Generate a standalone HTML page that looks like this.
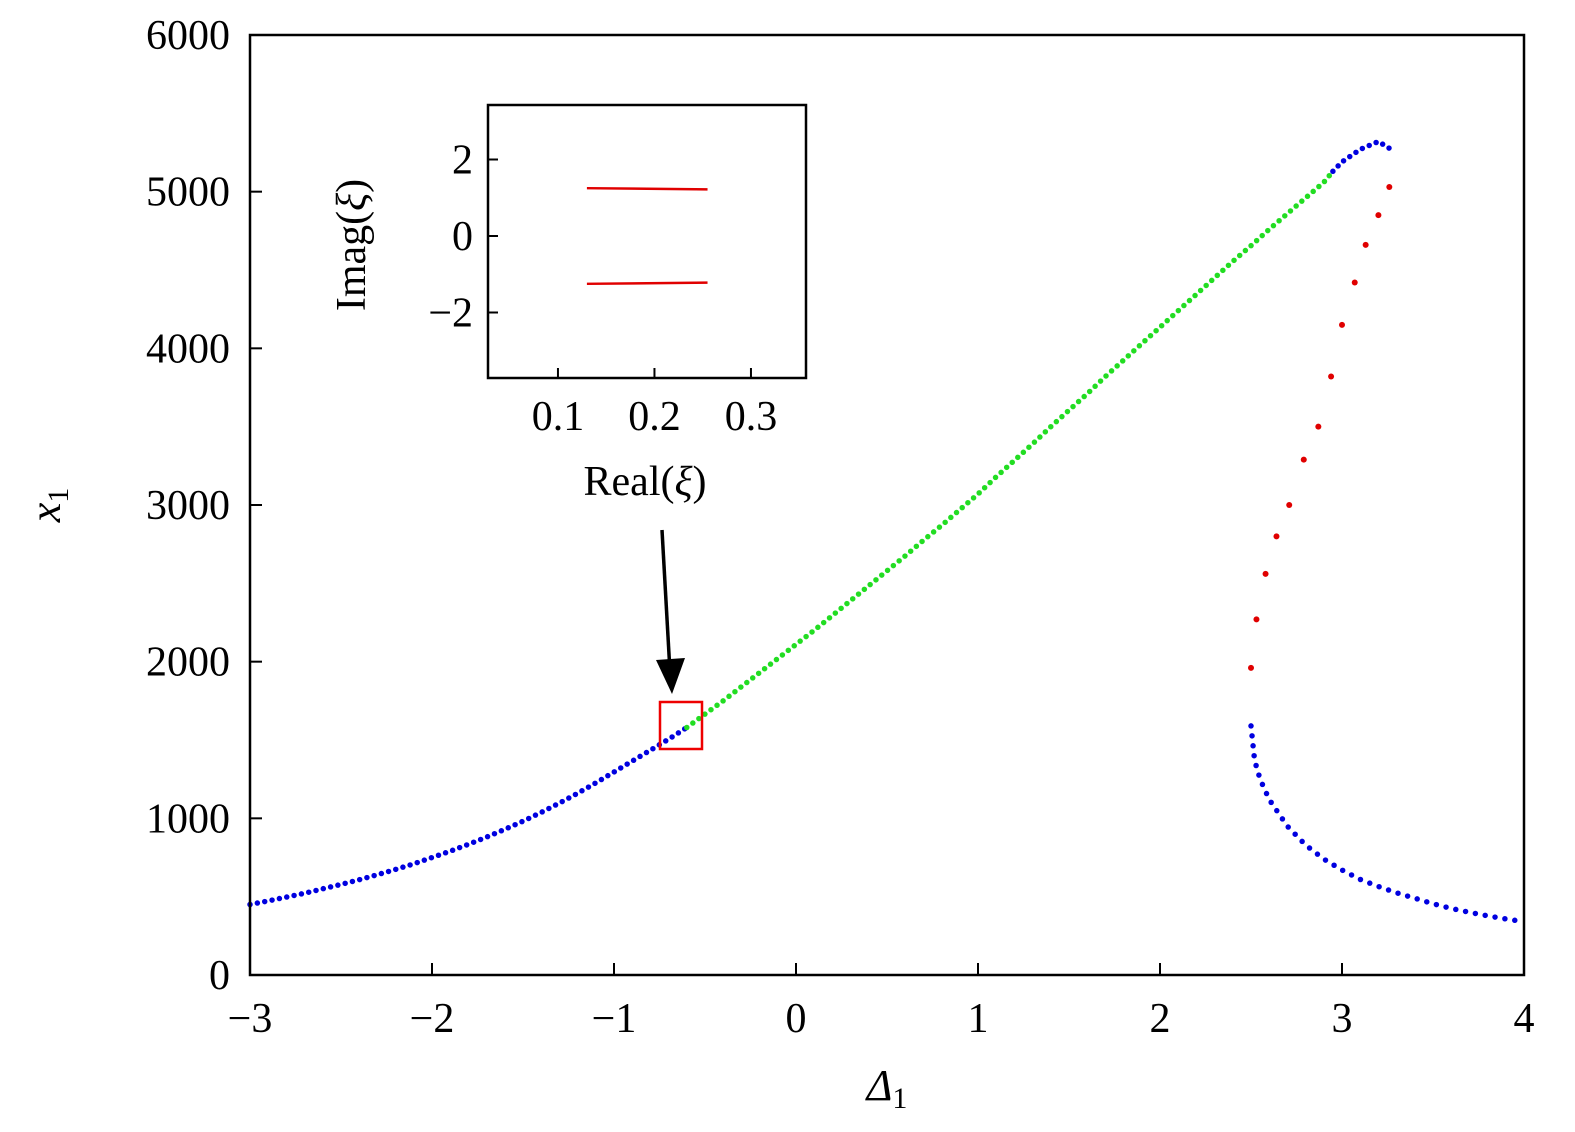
<!DOCTYPE html>
<html><head><meta charset="utf-8"><style>
html,body{margin:0;padding:0;background:#fff;overflow:hidden}
svg{display:block}
svg text{font-family:"Liberation Serif",serif;fill:#000}
</style></head><body>
<svg id="chart" width="1575" height="1132" xmlns="http://www.w3.org/2000/svg">
<g id="marks"></g>
<rect x="250" y="35" width="1274" height="940" fill="none" stroke="#000" stroke-width="2.5"/>
<g id="axes"></g>
<text x="60" y="505" font-size="44" font-style="italic" text-anchor="middle" transform="rotate(-90 60 505)">x<tspan font-size="30" font-style="normal" dy="8">1</tspan></text>
<text x="887" y="1100" font-size="44" font-style="italic" text-anchor="middle">Δ<tspan font-size="30" font-style="normal" dy="8">1</tspan></text>
<rect x="660" y="702" width="42" height="47" fill="none" stroke="#e00" stroke-width="2.5"/>
<g>
<line x1="662" y1="530" x2="670" y2="672" stroke="#000" stroke-width="3.5"/>
<polygon points="656,660 685,658 672,694" fill="#000"/>
</g>
<g id="inset">
<rect x="488" y="105" width="318" height="273" fill="#fff" stroke="#000" stroke-width="2.5"/>
</g>
<text x="365" y="245" font-size="42" text-anchor="middle" transform="rotate(-90 365 245)">Imag(<tspan font-style="italic">ξ</tspan>)</text>
<text x="645" y="495" font-size="42" text-anchor="middle">Real(<tspan font-style="italic">ξ</tspan>)</text>
</svg>
<script>
const mainX=[-3,-2.9,-2.8,-2.7,-2.6,-2.5,-2.4,-2.3,-2.2,-2.1,-2,-1.9,-1.8,-1.7,-1.6,-1.5,-1.4,-1.3,-1.2,-1.1,-1,-0.9,-0.8,-0.7,-0.6,-0.5,-0.4,-0.3,-0.2,-0.1,0,0.1,0.2,0.3,0.4,0.5,0.6,0.7,0.8,0.9,1,1.1,1.2,1.3,1.4,1.5,1.6,1.7,1.8,1.9,2,2.1,2.2,2.3,2.4,2.5,2.6,2.7,2.8,2.9,2.95,3.0,3.1,3.2,3.27];
const mainY=[450,473,497,522,550,578,608,640,674,710,750,790,834,880,930,982,1038,1097,1160,1226,1296,1365,1435,1505,1580,1665,1750,1840,1930,2020,2110,2200,2295,2390,2485,2580,2675,2775,2870,2970,3070,3180,3285,3390,3500,3605,3710,3820,3925,4030,4135,4240,4345,4450,4555,4655,4760,4860,4960,5060,5130,5190,5270,5320,5270];
const stableFrom=-0.6, stableTo=2.95;
const lowX=[2.5,2.52,2.55,2.6,2.7,2.8,2.9,3.0,3.1,3.2,3.3,3.4,3.5,3.6,3.7,3.8,3.9,4.0];
const lowY=[1590,1370,1250,1120,950,830,740,670,610,565,525,490,455,425,400,378,358,340];
const redX=[2.5,2.53,2.58,2.64,2.71,2.79,2.87,2.94,3.0,3.07,3.13,3.2,3.26];
const redY=[1960,2270,2560,2800,3000,3290,3500,3820,4150,4420,4660,4850,5030];
const xTicks=[-3,-2,-1,0,1,2,3,4];
const yTicks=[0,1000,2000,3000,4000,5000,6000];
const insetXTicks=[0.1,0.2,0.3];
const insetYTicks=[-2,0,2];
const insetLineX=[0.13,0.255];
const insetUpperY=[1.25,1.22];
const insetLowerY=[-1.25,-1.22];

const NS="http://www.w3.org/2000/svg";
const sx=v=>250+(v+3)*1274/7, sy=v=>975-v*940/6000;
const ix=v=>488+(v-0.0275)*965, iy=v=>236-v*38.25;
function el(t,a,p){const e=document.createElementNS(NS,t);for(const k in a)e.setAttribute(k,a[k]);p.appendChild(e);return e;}
const marks=document.getElementById('marks'), axes=document.getElementById('axes');
function dotted(xs,ys,color,name,dash){
  const d=xs.map((x,i)=>(i?'L':'M')+sx(x).toFixed(1)+' '+sy(ys[i]).toFixed(1)).join('');
  const p=el('path',{d:d,fill:'none',stroke:color,'stroke-width':5.5,'stroke-linecap':'round','stroke-dasharray':'0 '+dash},marks);
  
  
}
let segs=[],cur=null;
mainX.forEach((x,i)=>{const st=(x>=stableFrom&&x<stableTo)?'stable':'unstable';
  if(!cur||cur.st!==st){if(cur){cur.xs.push(x);cur.ys.push(mainY[i]);}cur={st:st,xs:[],ys:[]};segs.push(cur);}
  cur.xs.push(x);cur.ys.push(mainY[i]);});
segs.forEach(s=>dotted(s.xs,s.ys,s.st==='stable'?'#22dd22':'#0000e0',s.st==='stable'?'upper-branch-green':'upper-branch-blue',7.5));
dotted(lowX,lowY,'#0000e0','lower-branch-blue',10);
redX.forEach((x,i)=>{const c=el('circle',{cx:sx(x),cy:sy(redY[i]),r:3,fill:'#e00000'},marks);
  
  });
xTicks.forEach(t=>{const x=sx(t);
  const l=el('line',{x1:x,x2:x,y1:975,y2:963,stroke:'#000','stroke-width':2},axes);
  
  
  const tx=el('text',{x:x,y:1032,'font-size':42,'text-anchor':'middle'},axes);tx.textContent=t<0?'\u2212'+(-t):t;
  
  });
yTicks.forEach(t=>{const y=sy(t);
  const l=el('line',{x1:250,x2:262,y1:y,y2:y,stroke:'#000','stroke-width':2},axes);
  
  
  const tx=el('text',{x:230,y:y+14,'font-size':42,'text-anchor':'end'},axes);tx.textContent=t;
  
  });
const inset=document.getElementById('inset');
insetXTicks.forEach(t=>{const x=ix(t);
  el('line',{x1:x,x2:x,y1:378,y2:368,stroke:'#000','stroke-width':2},inset);
  const tx=el('text',{x:x,y:430,'font-size':42,'text-anchor':'middle'},inset);tx.textContent=t;
  
  });
insetYTicks.forEach(t=>{const y=iy(t);
  el('line',{x1:488,x2:498,y1:y,y2:y,stroke:'#000','stroke-width':2},inset);
  const tx=el('text',{x:473,y:y+14,'font-size':42,'text-anchor':'end'},inset);tx.textContent=t<0?'\u2212'+(-t):t;
  
  });
[insetUpperY,insetLowerY].forEach((ys,k)=>{const l=el('line',{x1:ix(insetLineX[0]),x2:ix(insetLineX[1]),y1:iy(ys[0]),y2:iy(ys[1]),stroke:'#e00000','stroke-width':2.5},inset);
  
  });
</script>
</body></html>
